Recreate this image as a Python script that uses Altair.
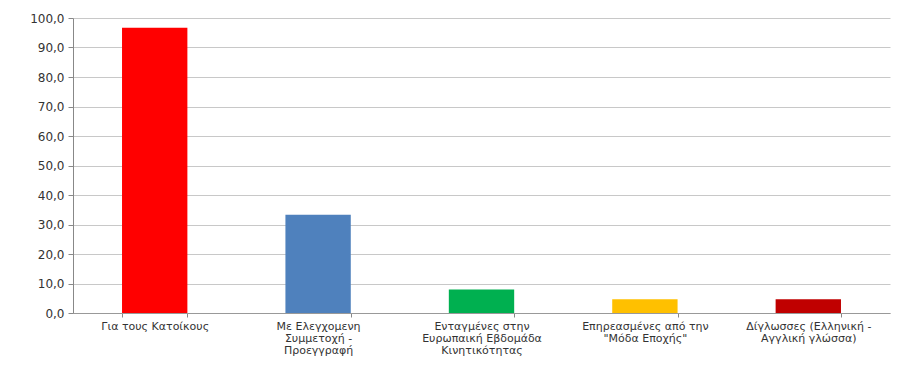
import altair as alt
import pandas as pd

categories = [
    "Για τους Κατοίκους",
    "Με Ελεγχομενη\nΣυμμετοχή -\nΠροεγγραφή",
    "Ενταγμένες στην\nΕυρωπαική Εβδομάδα\nΚινητικότητας",
    "Επηρεασμένες από την\n\"Μόδα Εποχής\"",
    "Δίγλωσσες (Ελληνική -\nΑγγλική γλώσσα)",
]
values = [96.7, 33.3, 8.0, 4.7, 4.7]
colors = ["#ff0000", "#4f81bd", "#00b050", "#ffc000", "#c00000"]

df = pd.DataFrame({"cat": categories, "val": values, "col": colors})

font = "DejaVu Sans"

chart = alt.Chart(df).mark_bar().encode(
    x=alt.X("cat:N", sort=categories, title=None,
            scale=alt.Scale(paddingInner=0.6, paddingOuter=0.3),
            axis=alt.Axis(labelAngle=0, labelExpr="split(datum.label, '\\n')",
                          labelFont=font, labelFontSize=11, labelColor="#333333",
                          labelLineHeight=12, labelPadding=3,
                          tickBand="extent", tickSize=4, tickColor="#888888",
                          domainColor="#999999", labelBaseline="top")),
    y=alt.Y("val:Q", title=None,
            scale=alt.Scale(domain=[0, 100]),
            axis=alt.Axis(values=list(range(0, 101, 10)),
                          labelExpr="replace(format(datum.value, '.1f'), '.', ',')",
                          labelFont=font, labelFontSize=12, labelColor="#333333",
                          tickSize=5, tickColor="#888888", domainColor="#888888",
                          gridColor="#c8c8c8", grid=True, labelPadding=4)),
    color=alt.Color("col:N", scale=None, legend=None),
).properties(
    width=817, height=295,
    autosize=alt.AutoSizeParams(type="none"),
    padding={"left": 65, "right": 5, "top": 10, "bottom": 45},
    background="white",
).configure_view(stroke=None)

chart.save("out.html", embed_options={"renderer": "svg", "actions": False})
